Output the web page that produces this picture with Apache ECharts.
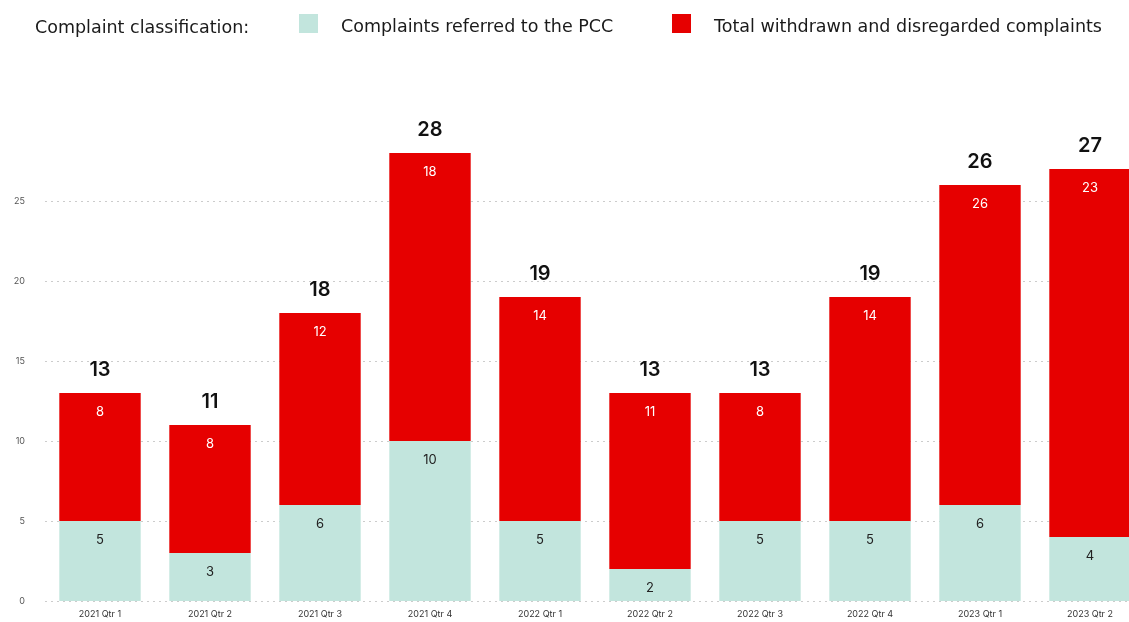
<!DOCTYPE html>
<html><head><meta charset="utf-8">
<script src="https://cdn.jsdelivr.net/npm/echarts@6/dist/echarts.min.js"></script>
<style>html,body{margin:0;padding:0;background:#fff;overflow:hidden;width:1129px;height:622px}#c{width:1145px;height:622px}</style>
</head><body><div id="c"></div>
<script>
const categories = ['2021 Qtr 1','2021 Qtr 2','2021 Qtr 3','2021 Qtr 4','2022 Qtr 1','2022 Qtr 2','2022 Qtr 3','2022 Qtr 4','2023 Qtr 1','2023 Qtr 2'];
const referredPCC = [5,3,6,10,5,2,5,5,6,4];
const withdrawnDisregarded = [8,8,12,18,14,11,8,14,20,23];
const withdrawnLabels = [8,8,12,18,14,11,8,14,26,23];
const totals = [13,11,18,28,19,13,13,19,26,27];
const yTicks = [0,5,10,15,20,25];

const FONT = '"DejaVu Sans", sans-serif';
const NUMFONT = 'Inter, "Noto Sans", sans-serif';
const legendText = {fontFamily: FONT, fontSize: 17.5, color: '#1a1a1a', padding: [0,0,0,18]};
const squareIcon = 'path://M0 0H19V19H0Z M0 27H0.01V27.01H0Z';
const chart = echarts.init(document.getElementById('c'));
chart.setOption({
  animation: false,
  textStyle: {fontFamily: NUMFONT},
  title: {text: 'Complaint classification:', left: 30, top: 14,
    textStyle: {fontFamily: FONT, fontSize: 17.5, fontWeight: 'normal', color: '#1a1a1a'}},
  legend: [
    {left: 294, top: 9, itemWidth: 19, itemHeight: 27, icon: squareIcon, textStyle: legendText,
     data: ['Complaints referred to the PCC']},
    {left: 667, top: 9, itemWidth: 19, itemHeight: 27, icon: squareIcon, textStyle: legendText,
     data: ['Total withdrawn and disregarded complaints']}
  ],
  grid: {left: 45, right: 0, top: 153, height: 448, containLabel: false},
  xAxis: {type: 'category', data: categories,
    axisLine: {show: false}, axisTick: {show: false},
    axisLabel: {fontSize: 9, color: '#333', margin: 9}},
  yAxis: {type: 'value', min: 0, max: 28, interval: 5,
    axisLabel: {fontSize: 9, color: '#555', margin: 20, showMaxLabel: false,
      formatter: v => yTicks.includes(v) ? String(v) : ''},
    splitLine: {showMaxLine: false, lineStyle: {type: [2,4], color: '#ccc', width: 1}}},
  series: [
    {name: 'Complaints referred to the PCC', type: 'bar', stack: 's', barCategoryGap: '26%',
     data: referredPCC, itemStyle: {color: '#c2e5dd'},
     label: {show: true, position: 'insideTop', distance: 13, fontSize: 13, color: '#222'}},
    {name: 'Total withdrawn and disregarded complaints', type: 'bar', stack: 's',
     data: withdrawnDisregarded, itemStyle: {color: '#e60000'},
     label: {show: true, position: 'insideTop', distance: 13, fontSize: 13, color: '#fff',
       formatter: p => String(withdrawnLabels[p.dataIndex])}},
    {name: 'total', type: 'scatter', data: totals, symbolSize: 0, silent: true,
     itemStyle: {opacity: 1},
     label: {show: true, position: 'top', distance: 13, fontSize: 20, fontWeight: 600, color: '#111',
       formatter: p => String(totals[p.dataIndex])}}
  ]
});
</script></body></html>
